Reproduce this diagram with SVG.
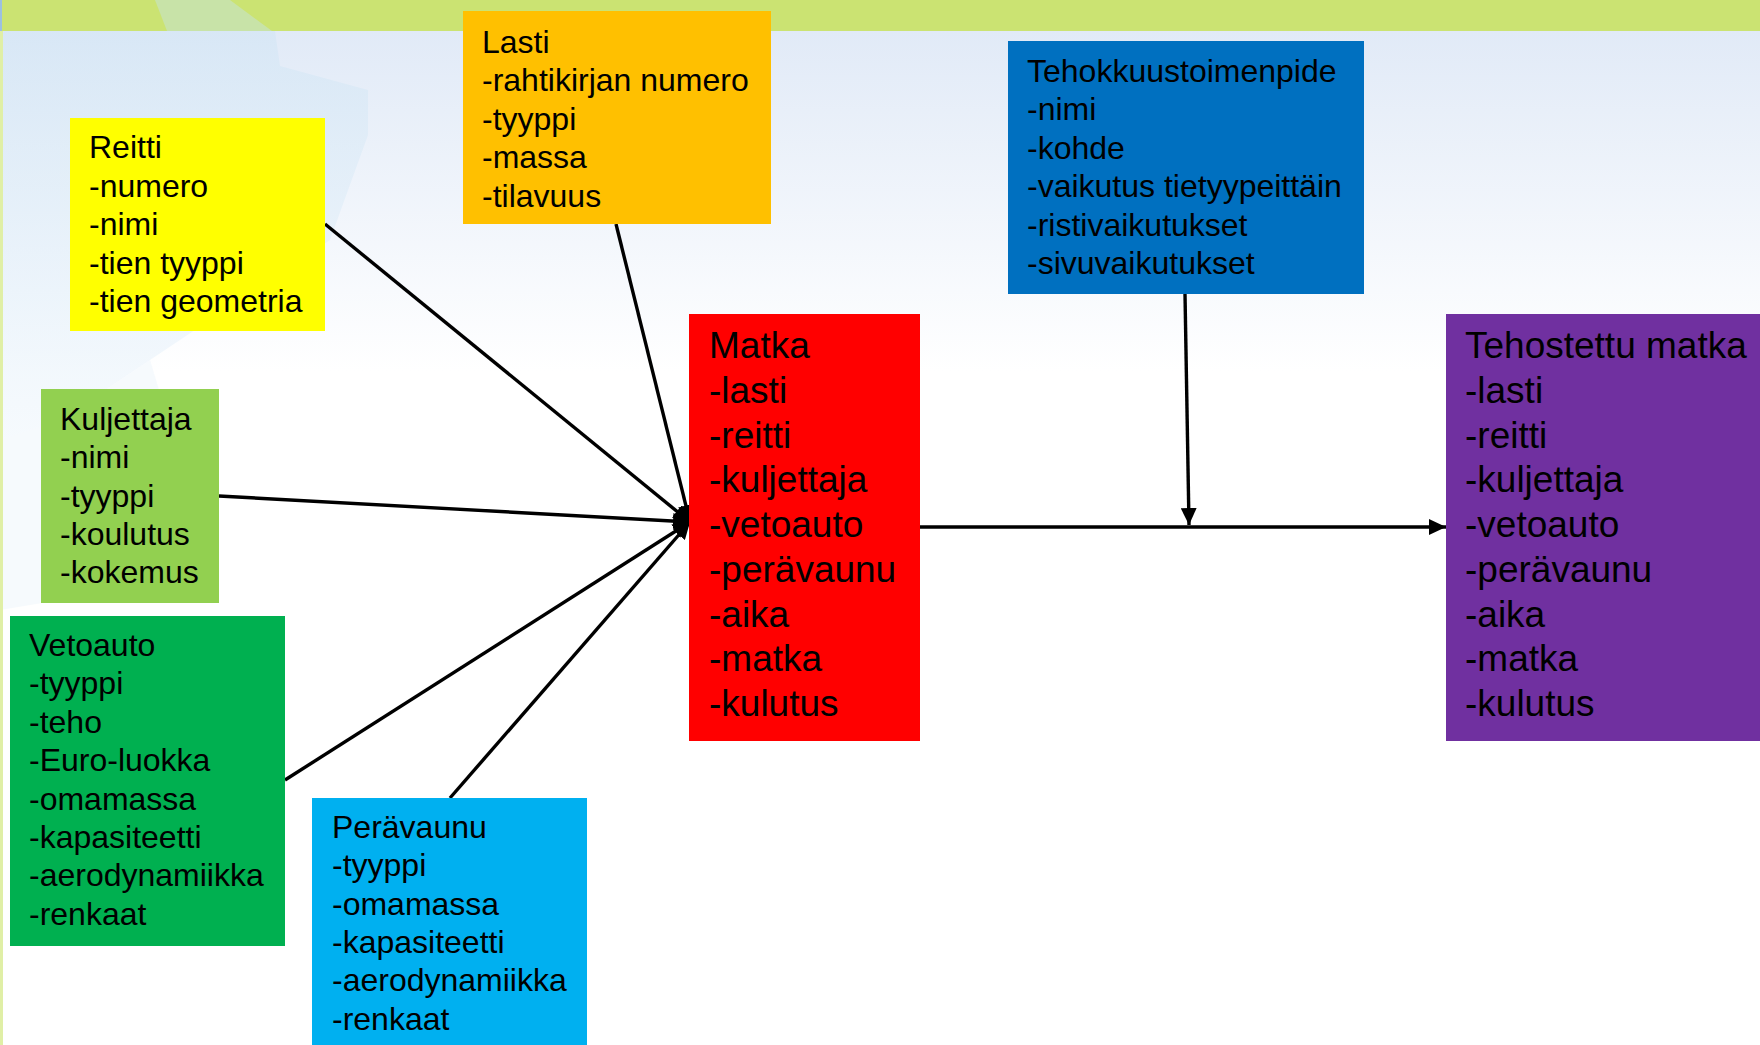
<svg xmlns="http://www.w3.org/2000/svg" width="1760" height="1045" viewBox="0 0 1760 1045">
<style>
.t{font-family:"Liberation Sans",Arial,sans-serif;font-size:32px;fill:#000}
.big{font-size:37px}
.c{stroke:#000;stroke-width:3.4;fill:none}
</style>
<defs>
<linearGradient id="bg" x1="0" y1="0" x2="0" y2="1">
<stop offset="0" stop-color="#e1eaf7"/>
<stop offset="1" stop-color="#ffffff"/>
</linearGradient>
<linearGradient id="sw" x1="0" y1="0" x2="0" y2="1">
<stop offset="0" stop-color="#d4e6f5"/>
<stop offset="1" stop-color="#f2f8fd"/>
</linearGradient>
<marker id="ah" markerUnits="userSpaceOnUse" markerWidth="18" markerHeight="16" refX="17" refY="8" orient="auto">
<path d="M0,0 L17,8 L0,16 Z" fill="#000"/>
</marker>
</defs>
<g id="background">
<rect x="0" y="0" width="1760" height="1045" fill="#fff"/>
<rect x="0" y="31" width="1760" height="340" fill="url(#bg)"/>
<path d="M0,31 L275,31 L280,66 L368,90 L368,135 L330,240 L150,360 L60,420 L0,440 Z" fill="url(#sw)" opacity="0.7"/>
<path d="M0,440 L60,420 L150,360 L210,560 L60,600 L0,610 Z" fill="#eef5fc" opacity="0.5"/>
<rect x="0" y="0" width="1760" height="31" fill="#cbe372"/>
<path d="M155,0 L230,0 L272,31 L167,31 Z" fill="#c8e3a8"/>
<rect x="0" y="31" width="3" height="1014" fill="#e0efa6"/>
<rect x="0" y="0" width="2" height="31" fill="#9cc0e0"/>
</g>
<g id="connectors">
<line class="c" x1="325" y1="224" x2="690" y2="522" marker-end="url(#ah)"/>
<line class="c" x1="616" y1="224" x2="690" y2="522" marker-end="url(#ah)"/>
<line class="c" x1="219" y1="496" x2="690" y2="522" marker-end="url(#ah)"/>
<line class="c" x1="285" y1="780" x2="690" y2="522" marker-end="url(#ah)"/>
<line class="c" x1="450" y1="798" x2="690" y2="522" marker-end="url(#ah)"/>
<line class="c" x1="1185" y1="294" x2="1189" y2="525" marker-end="url(#ah)"/>
<line class="c" x1="920" y1="527" x2="1446" y2="527" marker-end="url(#ah)"/>
</g>
<g id="reitti">
<rect x="70" y="118" width="255" height="213" fill="#ffff00"/>
<text class="t" x="89" y="158">Reitti</text>
<text class="t" x="89" y="196.5">-numero</text>
<text class="t" x="89" y="235">-nimi</text>
<text class="t" x="89" y="273.5">-tien tyyppi</text>
<text class="t" x="89" y="312">-tien geometria</text>
</g>
<g id="lasti">
<rect x="463" y="11" width="308" height="213" fill="#ffc000"/>
<text class="t" x="482" y="53">Lasti</text>
<text class="t" x="482" y="91.4">-rahtikirjan numero</text>
<text class="t" x="482" y="129.8">-tyyppi</text>
<text class="t" x="482" y="168.2">-massa</text>
<text class="t" x="482" y="206.6">-tilavuus</text>
</g>
<g id="tehokkuustoimenpide">
<rect x="1008" y="41" width="356" height="253" fill="#0070c0"/>
<text class="t" x="1027" y="82">Tehokkuustoimenpide</text>
<text class="t" x="1027" y="120.4">-nimi</text>
<text class="t" x="1027" y="158.8">-kohde</text>
<text class="t" x="1027" y="197.2">-vaikutus tietyypeittäin</text>
<text class="t" x="1027" y="235.6">-ristivaikutukset</text>
<text class="t" x="1027" y="274">-sivuvaikutukset</text>
</g>
<g id="kuljettaja">
<rect x="41" y="389" width="178" height="214" fill="#92d050"/>
<text class="t" x="60" y="430">Kuljettaja</text>
<text class="t" x="60" y="468.3">-nimi</text>
<text class="t" x="60" y="506.6">-tyyppi</text>
<text class="t" x="60" y="544.9">-koulutus</text>
<text class="t" x="60" y="583.2">-kokemus</text>
</g>
<g id="vetoauto">
<rect x="10" y="616" width="275" height="330" fill="#00b050"/>
<text class="t" x="29" y="656">Vetoauto</text>
<text class="t" x="29" y="694.4">-tyyppi</text>
<text class="t" x="29" y="732.8">-teho</text>
<text class="t" x="29" y="771.2">-Euro-luokka</text>
<text class="t" x="29" y="809.6">-omamassa</text>
<text class="t" x="29" y="848">-kapasiteetti</text>
<text class="t" x="29" y="886.4">-aerodynamiikka</text>
<text class="t" x="29" y="924.8">-renkaat</text>
</g>
<g id="peravaunu">
<rect x="312" y="798" width="275" height="247" fill="#00b0f0"/>
<text class="t" x="332" y="838">Perävaunu</text>
<text class="t" x="332" y="876.3">-tyyppi</text>
<text class="t" x="332" y="914.6">-omamassa</text>
<text class="t" x="332" y="952.9">-kapasiteetti</text>
<text class="t" x="332" y="991.2">-aerodynamiikka</text>
<text class="t" x="332" y="1029.5">-renkaat</text>
</g>
<g id="matka">
<rect x="689" y="314" width="231" height="427" fill="#ff0000"/>
<text class="t big" x="709" y="358">Matka</text>
<text class="t big" x="709" y="402.75">-lasti</text>
<text class="t big" x="709" y="447.5">-reitti</text>
<text class="t big" x="709" y="492.25">-kuljettaja</text>
<text class="t big" x="709" y="537">-vetoauto</text>
<text class="t big" x="709" y="581.75">-perävaunu</text>
<text class="t big" x="709" y="626.5">-aika</text>
<text class="t big" x="709" y="671.25">-matka</text>
<text class="t big" x="709" y="716">-kulutus</text>
</g>
<g id="tehostettu-matka">
<rect x="1446" y="314" width="314" height="427" fill="#7030a0"/>
<text class="t big" x="1465" y="358">Tehostettu matka</text>
<text class="t big" x="1465" y="402.75">-lasti</text>
<text class="t big" x="1465" y="447.5">-reitti</text>
<text class="t big" x="1465" y="492.25">-kuljettaja</text>
<text class="t big" x="1465" y="537">-vetoauto</text>
<text class="t big" x="1465" y="581.75">-perävaunu</text>
<text class="t big" x="1465" y="626.5">-aika</text>
<text class="t big" x="1465" y="671.25">-matka</text>
<text class="t big" x="1465" y="716">-kulutus</text>
</g>
</svg>
